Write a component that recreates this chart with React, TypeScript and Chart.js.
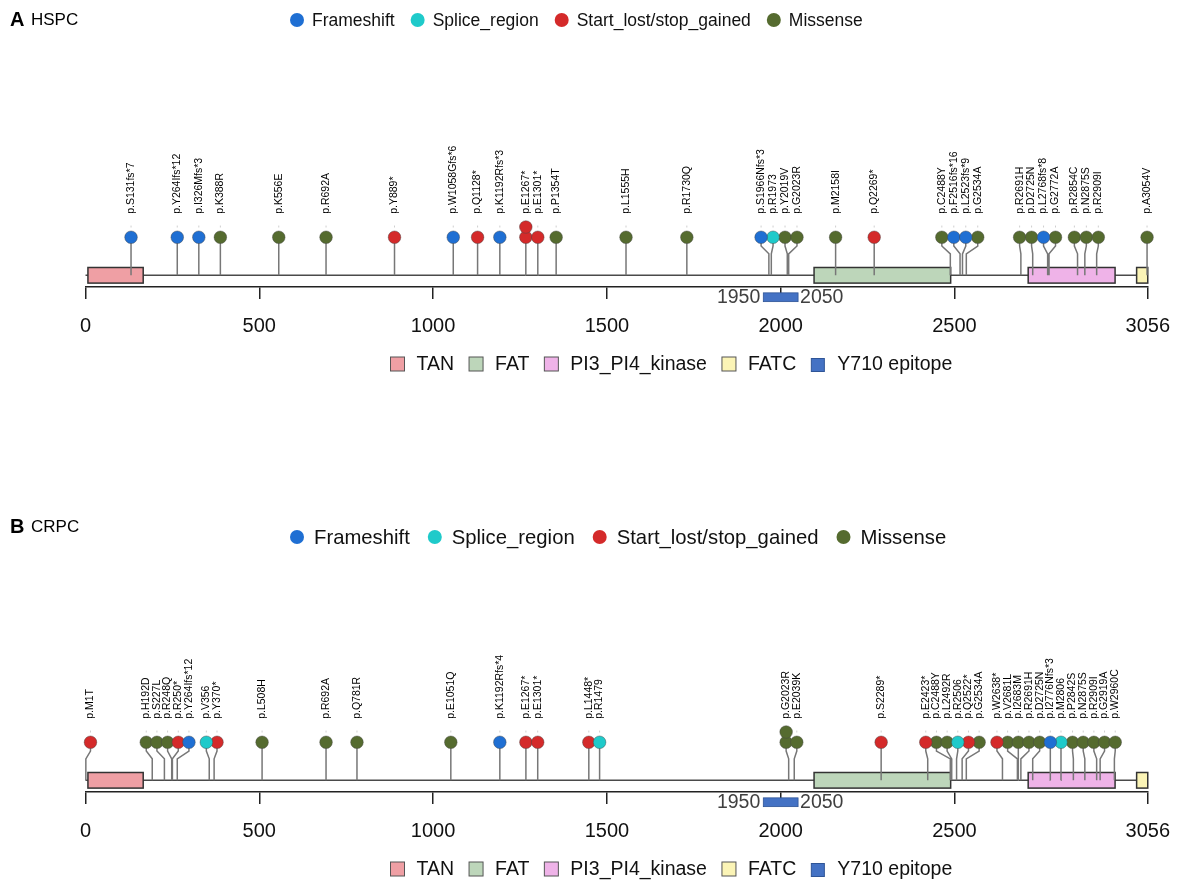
import React, { useEffect, useRef } from "react";
import { Chart, registerables } from "chart.js";

Chart.register(...registerables);

// ---------------- data ----------------
const PROTEIN_LENGTH = 3056;
const TICK_VALUES = [0, 500, 1000, 1500, 2000, 2500, 3056];

const MUT_TYPES = ["Frameshift", "Splice_region", "Start_lost/stop_gained", "Missense"];
const MUT_COLORS = ["#1f6fd3", "#1fcaca", "#d42a2a", "#556b2f"];

const DOMAIN_NAMES = ["TAN", "FAT", "PI3_PI4_kinase", "FATC"];
const DOMAIN_STARTS = [7, 2096, 2712, 3024];
const DOMAIN_ENDS = [166, 2489, 2962, 3056];
const DOMAIN_COLORS = ["#ef9fa4", "#bdd6ba", "#efb3e8", "#fbf4b6"];

const EPITOPE_NAME = "Y710 epitope";
const EPITOPE_START = 1950;
const EPITOPE_END = 2050;
const EPITOPE_COLOR = "#4472c4";

// type index: 0 Frameshift, 1 Splice_region, 2 Start_lost/stop_gained, 3 Missense
const HSPC_LABELS = [
  "p.S131fs*7", "p.Y264Ifs*12", "p.I326Mfs*3", "p.K388R", "p.K556E", "p.R692A", "p.Y889*",
  "p.W1058Gfs*6", "p.Q1128*", "p.K1192Rfs*3", "p.E1267*", "p.E1301*", "p.P1354T", "p.L1555H",
  "p.R1730Q", "p.S1966Nfs*3", "p.R1973", "p.Y2019V", "p.G2023R", "p.M2158I", "p.Q2269*",
  "p.C2488Y", "p.F2516fs*16", "p.L2523fs*9", "p.G2534A", "p.R2691H", "p.D2725N", "p.L2768fs*8",
  "p.G2772A", "p.R2854C", "p.N2875S", "p.R2909I", "p.A3054V",
];
const HSPC_POSITIONS = [
  131, 264, 326, 388, 556, 692, 889, 1058, 1128, 1192, 1267, 1301, 1354, 1555, 1730, 1966, 1973,
  2019, 2023, 2158, 2269, 2488, 2516, 2523, 2534, 2691, 2725, 2768, 2772, 2854, 2875, 2909, 3054,
];
const HSPC_TYPES = [
  0, 0, 0, 3, 3, 3, 2, 0, 2, 0, 2, 2, 3, 3, 3, 0, 1, 3, 3, 3, 2, 3, 0, 0, 3, 3, 3, 0, 3, 3, 3, 3, 3,
];
const HSPC_COUNTS = [
  1, 1, 1, 1, 1, 1, 1, 1, 1, 1, 2, 1, 1, 1, 1, 1, 1, 1, 1, 1, 1, 1, 1, 1, 1, 1, 1, 1, 1, 1, 1, 1, 1,
];

const CRPC_LABELS = [
  "p.M1T", "p.H192D", "p.S227L", "p.R248Q", "p.R250*", "p.Y264Ifs*12", "p.V356", "p.Y370*",
  "p.L508H", "p.R692A", "p.Q781R", "p.E1051Q", "p.K1192Rfs*4", "p.E1267*", "p.E1301*", "p.L1448*",
  "p.R1479", "p.G2023R", "p.E2039K", "p.S2289*", "p.E2423*", "p.C2488Y", "p.L2492R", "p.R2506",
  "p.Q2522*", "p.G2534A", "p.W2638*", "p.V2681L", "p.I2683M", "p.R2691H", "p.D2725N",
  "p.I2776Nfs*3", "p.M2806", "p.P2842S", "p.N2875S", "p.R2909I", "p.G2919A", "p.W2960C",
];
const CRPC_POSITIONS = [
  1, 192, 227, 248, 250, 264, 356, 370, 508, 692, 781, 1051, 1192, 1267, 1301, 1448, 1479, 2023,
  2039, 2289, 2423, 2488, 2492, 2506, 2522, 2534, 2638, 2681, 2683, 2691, 2725, 2776, 2806, 2842,
  2875, 2909, 2919, 2960,
];
const CRPC_TYPES = [
  2, 3, 3, 3, 2, 0, 1, 2, 3, 3, 3, 3, 0, 2, 2, 2, 1, 3, 3, 2, 2, 3, 3, 1, 2, 3, 2, 3, 3, 3, 3, 0, 1,
  3, 3, 3, 3, 3,
];
const CRPC_COUNTS = [
  1, 1, 1, 1, 1, 1, 1, 1, 1, 1, 1, 1, 1, 1, 1, 1, 1, 2, 1, 1, 1, 1, 1, 1, 1, 1, 1, 1, 1, 1, 1, 1, 1,
  1, 1, 1, 1, 1,
];

// ---------------- layout ----------------
const CANVAS_W = 1185;
const CANVAS_H = 376;
const PAD_L = 85.5;
const PAD_R = 34.5;
const AXIS_H = 89;
const Y_MIN = -12;
const Y_MAX = 275;
const BOX_HALF = 8;
const ELBOW_LOW = 22;
const ELBOW_HIGH = 30;
const CIRCLE_Y = 39;
const STACK_STEP = 10.5;
const MARK_Y = 50;
const LABEL_Y = 63;
const FONT = "'Liberation Sans', Arial, sans-serif";

function spreadPositions(pos: number[], gap: number, lo: number, hi: number): number[] {
  const n = pos.length;
  const order = pos.map((_, i) => i).sort((a, b) => pos[a] - pos[b]);
  const yv = order.map((idx, k) => pos[idx] - k * gap);
  const blocks: { sum: number; cnt: number }[] = [];
  for (const v of yv) {
    blocks.push({ sum: v, cnt: 1 });
    while (blocks.length > 1) {
      const b = blocks[blocks.length - 1];
      const a = blocks[blocks.length - 2];
      if (a.sum / a.cnt > b.sum / b.cnt) {
        a.sum += b.sum;
        a.cnt += b.cnt;
        blocks.pop();
      } else break;
    }
  }
  const fitted: number[] = [];
  for (const b of blocks) for (let i = 0; i < b.cnt; i++) fitted.push(b.sum / b.cnt);
  const disp = fitted.map((f, k) => f + k * gap);
  for (let k = 0; k < n; k++) disp[k] = Math.max(disp[k], k === 0 ? lo : disp[k - 1] + gap);
  for (let k = n - 1; k >= 0; k--) disp[k] = Math.min(disp[k], k === n - 1 ? hi : disp[k + 1] - gap);
  const out: number[] = new Array(n);
  order.forEach((idx, k) => (out[idx] = disp[k]));
  return out;
}

type PanelProps = {
  top: number;
  letter: string;
  name: string;
  labels: string[];
  positions: number[];
  types: number[];
  counts: number[];
  gapPx: number;
  titleY: number;
  legendY: number;
  legendFont: number;
  legendTextGap: number;
  legendItemGap: number;
};

function LollipopPanel(props: PanelProps) {
  const ref = useRef<HTMLCanvasElement>(null);

  useEffect(() => {
    const canvas = ref.current;
    if (!canvas) return;
    const plotW = CANVAS_W - PAD_L - PAD_R;
    const resPerPx = PROTEIN_LENGTH / plotW;
    const disp = spreadPositions(
      props.positions,
      props.gapPx * resPerPx,
      5 * resPerPx,
      PROTEIN_LENGTH
    );

    const stemData: { x: number; y: number | null }[] = [];
    props.positions.forEach((p, i) => {
      const d = disp[i];
      stemData.push({ x: p, y: 0 });
      if (Math.abs(d - p) > 1) {
        stemData.push({ x: p, y: ELBOW_LOW });
        stemData.push({ x: d, y: ELBOW_HIGH });
      }
      stemData.push({ x: d, y: CIRCLE_Y });
      stemData.push({ x: d, y: null });
    });

    const circleSets = MUT_TYPES.map((t, ti) => ({
      type: "scatter" as const,
      label: t,
      data: props.positions.flatMap((_, i) =>
        props.types[i] === ti
          ? Array.from({ length: props.counts[i] }, (_, k) => ({ x: disp[i], y: CIRCLE_Y + k * STACK_STEP }))
          : []
      ),
      pointBackgroundColor: MUT_COLORS[ti],
      pointBorderColor: "rgba(70,70,70,0.55)",
      pointBorderWidth: 0.8,
      pointRadius: 6.3,
      backgroundColor: MUT_COLORS[ti],
      borderColor: "rgba(70,70,70,0.55)",
      clip: false as const,
      order: 0,
    }));

    const stemSet = {
      type: "line" as const,
      label: "stems",
      data: stemData,
      borderColor: "#777777",
      borderWidth: 1.5,
      pointRadius: 0,
      fill: false,
      tension: 0,
      spanGaps: false,
      clip: false as const,
      order: 5,
    };

    const decor = {
      id: "lollipopDecor",
      beforeDatasetsDraw(chart: any) {
        const { ctx } = chart;
        const x = chart.scales.x;
        const y = chart.scales.y;
        ctx.save();
        // backbone
        ctx.strokeStyle = "#4a4a4a";
        ctx.lineWidth = 1.5;
        ctx.beginPath();
        ctx.moveTo(x.getPixelForValue(0), y.getPixelForValue(0));
        ctx.lineTo(x.getPixelForValue(PROTEIN_LENGTH), y.getPixelForValue(0));
        ctx.stroke();
        // tiny marks between label and circle
        ctx.strokeStyle = "#cfcfcf";
        ctx.lineWidth = 1;
        disp.forEach((d) => {
          const px = x.getPixelForValue(d);
          ctx.beginPath();
          ctx.moveTo(px, y.getPixelForValue(MARK_Y - 1));
          ctx.lineTo(px, y.getPixelForValue(MARK_Y + 1));
          ctx.stroke();
        });
        // domains
        DOMAIN_NAMES.forEach((_, i) => {
          const x0 = x.getPixelForValue(DOMAIN_STARTS[i]);
          const x1 = x.getPixelForValue(DOMAIN_ENDS[i]);
          const y0 = y.getPixelForValue(BOX_HALF);
          const y1 = y.getPixelForValue(-BOX_HALF);
          ctx.fillStyle = DOMAIN_COLORS[i];
          ctx.fillRect(x0, y0, x1 - x0, y1 - y0);
          ctx.strokeStyle = "#333";
          ctx.lineWidth = 1.5;
          ctx.strokeRect(x0, y0, x1 - x0, y1 - y0);
        });
        ctx.restore();
      },
      afterDraw(chart: any) {
        const { ctx } = chart;
        const x = chart.scales.x;
        const y = chart.scales.y;
        ctx.save();
        // mutation labels
        ctx.fillStyle = "#000";
        ctx.font = `10.5px ${FONT}`;
        ctx.textAlign = "left";
        ctx.textBaseline = "middle";
        props.labels.forEach((lab, i) => {
          ctx.save();
          ctx.translate(x.getPixelForValue(disp[i]), y.getPixelForValue(LABEL_Y));
          ctx.rotate(-Math.PI / 2);
          ctx.fillText(lab, 0, 0);
          ctx.restore();
        });
        // epitope
        const ex0 = x.getPixelForValue(EPITOPE_START);
        const ex1 = x.getPixelForValue(EPITOPE_END);
        const ey0 = y.getPixelForValue(-18);
        const ey1 = y.getPixelForValue(-27);
        ctx.fillStyle = EPITOPE_COLOR;
        ctx.fillRect(ex0, ey0, ex1 - ex0, ey1 - ey0);
        ctx.strokeStyle = "#2f5597";
        ctx.lineWidth = 0.8;
        ctx.strokeRect(ex0, ey0, ex1 - ex0, ey1 - ey0);
        ctx.fillStyle = "#404040";
        ctx.font = `19.5px ${FONT}`;
        ctx.textBaseline = "middle";
        ctx.textAlign = "right";
        const ety = y.getPixelForValue(-22.5);
        ctx.fillText(String(EPITOPE_START), ex0 - 3, ety);
        ctx.textAlign = "left";
        ctx.fillText(String(EPITOPE_END), ex1 + 2, ety);

        // title
        ctx.fillStyle = "#000";
        ctx.textAlign = "left";
        ctx.font = `bold 20px ${FONT}`;
        ctx.fillText(props.letter, 10, props.titleY);
        ctx.font = `17px ${FONT}`;
        ctx.fillText(props.name, 31, props.titleY);

        // top legend (mutation types)
        ctx.font = `${props.legendFont}px ${FONT}`;
        let cx = 297;
        MUT_TYPES.forEach((t, ti) => {
          ctx.fillStyle = MUT_COLORS[ti];
          ctx.beginPath();
          ctx.arc(cx, props.legendY, 7, 0, Math.PI * 2);
          ctx.fill();
          ctx.fillStyle = "#111";
          const tx = cx + props.legendTextGap;
          ctx.fillText(t, tx, props.legendY + 1);
          cx = tx + ctx.measureText(t).width + props.legendItemGap;
        });

        // bottom legend (domains)
        const ly = 364;
        ctx.font = `19.5px ${FONT}`;
        let sx = 390.5;
        const items = [...DOMAIN_NAMES, EPITOPE_NAME];
        const colors = [...DOMAIN_COLORS, EPITOPE_COLOR];
        items.forEach((name, i) => {
          const isEp = i === items.length - 1;
          const s = isEp ? 13 : 14;
          const sy = isEp ? ly - 5.5 : ly - 7;
          ctx.fillStyle = colors[i];
          ctx.fillRect(sx, sy, s, s);
          ctx.strokeStyle = isEp ? "#2f5597" : "#555";
          ctx.lineWidth = 1;
          ctx.strokeRect(sx, sy, s, s);
          ctx.fillStyle = "#111";
          const tx = sx + 26;
          ctx.fillText(name, tx, ly + 1);
          sx = tx + ctx.measureText(name).width + 15;
        });
        ctx.restore();
      },
    };

    const chart = new Chart(canvas, {
      type: "scatter",
      data: { datasets: [...circleSets, stemSet] as any },
      options: {
        responsive: false,
        animation: false,
        devicePixelRatio: 1,
        events: [],
        layout: { padding: { left: PAD_L, right: PAD_R, top: 0, bottom: 0 } },
        plugins: { legend: { display: false }, tooltip: { enabled: false } },
        scales: {
          x: {
            type: "linear",
            position: "bottom",
            min: 0,
            max: PROTEIN_LENGTH,
            afterBuildTicks: (axis: any) => {
              axis.ticks = TICK_VALUES.map((v) => ({ value: v }));
            },
            afterFit: (axis: any) => {
              axis.height = AXIS_H;
            },
            border: { display: true, color: "#222", width: 1.5 },
            grid: {
              display: true,
              drawOnChartArea: false,
              drawTicks: true,
              tickLength: 12,
              tickWidth: 1.5,
              tickColor: "#222",
              color: "#222",
              lineWidth: 1.5,
            },
            ticks: {
              autoSkip: false,
              maxRotation: 0,
              minRotation: 0,
              padding: 15,
              color: "#111",
              font: { family: FONT, size: 20 },
              callback: (v: any) => String(v),
            },
          },
          y: { type: "linear", display: false, min: Y_MIN, max: Y_MAX },
        },
      },
      plugins: [decor],
    });
    return () => chart.destroy();
  }, []);

  return (
    <canvas
      ref={ref}
      width={CANVAS_W}
      height={CANVAS_H}
      style={{ position: "absolute", left: 0, top: props.top, width: CANVAS_W, height: CANVAS_H, display: "block" }}
    />
  );
}

export default function App() {
  return (
    <div style={{ position: "absolute", left: 0, top: 0, width: 1185, height: 881, background: "#fff" }}>
      <LollipopPanel
        top={0}
        letter="A"
        name="HSPC"
        labels={HSPC_LABELS}
        positions={HSPC_POSITIONS}
        types={HSPC_TYPES}
        counts={HSPC_COUNTS}
        gapPx={12}
        titleY={20}
        legendY={20}
        legendFont={17.5}
        legendTextGap={15}
        legendItemGap={23}
      />
      <LollipopPanel
        top={505}
        letter="B"
        name="CRPC"
        labels={CRPC_LABELS}
        positions={CRPC_POSITIONS}
        types={CRPC_TYPES}
        counts={CRPC_COUNTS}
        gapPx={10.7}
        titleY={22}
        legendY={32}
        legendFont={20.3}
        legendTextGap={17}
        legendItemGap={25}
      />
    </div>
  );
}
